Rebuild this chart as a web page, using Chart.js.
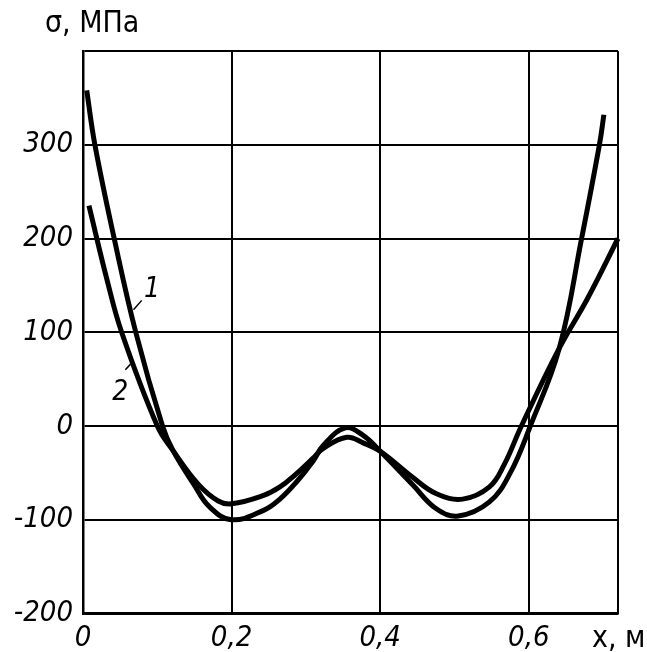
<!DOCTYPE html>
<html>
<head>
<meta charset="utf-8">
<script src="https://cdn.jsdelivr.net/npm/chart.js@4.4.0/dist/chart.umd.min.js"></script>
<style>
    html, body { margin: 0; padding: 0; background: #fff; }
    .grap-container { width: 647px; height: 652px; position: relative; }
</style>
</head>
<body>
<div class="grap-container"><canvas id="chart"></canvas></div>
<script>
// curve 1 (larger amplitude)
var x1 = [0.005, 0.016, 0.042, 0.071, 0.107, 0.121, 0.149, 0.170, 0.200, 0.243, 0.265, 0.287, 0.310, 0.323, 0.353, 0.377, 0.400, 0.444, 0.475, 0.505, 0.547, 0.575, 0.602, 0.641, 0.671, 0.695, 0.701];
var y1 = [358, 300, 200, 100, 0, -26, -62, -86, -100, -90, -78, -60, -37, -21, -2, -10, -27, -63, -88, -96, -81, -50, 0, 83, 200, 300, 332];
// curve 2
var x2 = [0.008, 0.032, 0.052, 0.100, 0.121, 0.155, 0.182, 0.200, 0.243, 0.265, 0.287, 0.310, 0.323, 0.355, 0.377, 0.400, 0.444, 0.475, 0.511, 0.547, 0.567, 0.590, 0.641, 0.679, 0.720];
var y2 = [235, 157, 100, 0, -26, -62, -80, -83, -74, -65, -51, -34, -24, -12, -18, -27, -55, -72, -78, -65, -41, 0, 83, 136, 200];

var xTicks = [0, 0.2, 0.4, 0.6];
var yTicks = [-200, -100, 0, 100, 200, 300];
var curveLabels = ['1', '2'];

var numFont = "'Liberation Sans Narrow', 'DejaVu Sans Condensed', sans-serif";

function toPoints(xs, ys) {
    return xs.map(function (x, i) { return { x: x, y: ys[i] }; });
}

function fmt(v) {
    return String(Math.round(v * 10) / 10).replace('.', ',');
}

var labelsPlugin = {
    id: 'labels',
    afterDraw: function (chart) {
        var ctx = chart.ctx;
        var xs = chart.scales.x, ys = chart.scales.y;
        var a = chart.chartArea;
        ctx.save();
        ctx.fillStyle = '#000';
        ctx.strokeStyle = '#000';
        ctx.textBaseline = 'middle';

        // axis titles
        ctx.font = "30px " + numFont;
        ctx.textAlign = 'left';
        ctx.fillText('σ, МПа', a.left - 38, a.top - 27);
        ctx.fillText('x, м', a.right - 26, a.bottom + 26);

        // curve labels with leader lines
        ctx.font = "italic 28px " + numFont;
        ctx.textAlign = 'center';
        ctx.fillText(curveLabels[0], xs.getPixelForValue(0.093), ys.getPixelForValue(145));
        ctx.fillText(curveLabels[1], xs.getPixelForValue(0.050), ys.getPixelForValue(36));
        ctx.lineWidth = 1.5;
        ctx.beginPath();
        ctx.moveTo(xs.getPixelForValue(0.068), ys.getPixelForValue(124));
        ctx.lineTo(xs.getPixelForValue(0.079), ys.getPixelForValue(134));
        ctx.moveTo(xs.getPixelForValue(0.057), ys.getPixelForValue(60));
        ctx.lineTo(xs.getPixelForValue(0.064), ys.getPixelForValue(66));
        ctx.stroke();
        ctx.restore();
    }
};

var ctx = document.getElementById("chart");
var config = {
    type: 'line',
    data: {
        datasets: [{
            label: curveLabels[0],
            data: toPoints(x1, y1),
            borderColor: '#000',
            borderWidth: 5,
            pointRadius: 0,
            tension: 0.4,
            clip: false
        }, {
            label: curveLabels[1],
            data: toPoints(x2, y2),
            borderColor: '#000',
            borderWidth: 5,
            pointRadius: 0,
            tension: 0.4,
            clip: false
        }]
    },
    options: {
        responsive: true,
        maintainAspectRatio: false,
        animation: false,
        layout: { padding: { top: 51, right: 29, left: 0, bottom: 0 } },
        plugins: {
            legend: { display: false },
            tooltip: { enabled: false }
        },
        scales: {
            x: {
                type: 'linear',
                min: 0,
                max: 0.72,
                afterBuildTicks: function (scale) {
                    scale.ticks = xTicks.concat([0.72]).map(function (v) { return { value: v }; });
                },
                afterFit: function (scale) { scale.height = 38.5; },
                grid: { color: '#000', lineWidth: 2, drawTicks: false },
                border: { color: '#000', width: 2.5 },
                ticks: {
                    color: '#000',
                    padding: 8,
                    maxRotation: 0,
                    font: { family: numFont, size: 29, style: 'italic' },
                    callback: function (v) { return xTicks.indexOf(v) >= 0 ? fmt(v) : ''; }
                }
            },
            y: {
                type: 'linear',
                min: -200,
                max: 400,
                afterBuildTicks: function (scale) {
                    scale.ticks = yTicks.concat([400]).map(function (v) { return { value: v }; });
                },
                afterFit: function (scale) { scale.width = 83; },
                grid: { color: '#000', lineWidth: 2, drawTicks: false },
                border: { color: '#000', width: 2.5 },
                ticks: {
                    color: '#000',
                    padding: 10,
                    font: { family: numFont, size: 29, style: 'italic' },
                    callback: function (v) { return yTicks.indexOf(v) >= 0 ? String(v) : ''; }
                }
            }
        }
    },
    plugins: [labelsPlugin]
};
var myChart = new Chart(ctx, config);
</script>
</body>
</html>
